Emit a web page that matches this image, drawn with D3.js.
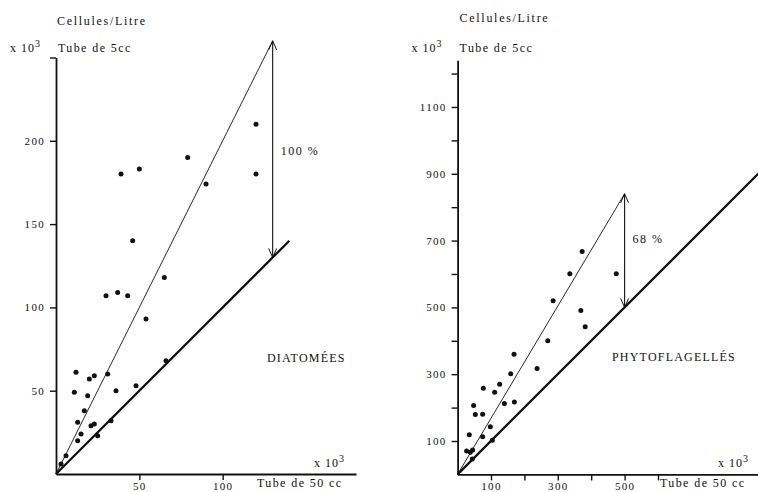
<!DOCTYPE html>
<html><head><meta charset="utf-8">
<script src="https://cdn.jsdelivr.net/npm/d3@7"></script>
<style>
body{margin:0;background:#fff;}
svg text{font-family:"Liberation Serif","DejaVu Serif",serif;fill:#111;}
</style></head>
<body>
<svg id="c" width="758" height="492"></svg>
<script>
// Diatomées: [Tube de 50 cc, Tube de 5 cc] (x 10^3 cellules/litre)
const diatX = [120,79,39,50,90,120,46,65,30,37,43,54,66,12,20,23,31,11,19,36,48,17,13,21,23,33,15,13,25,6,3];
const diatY = [210,190,180,183,174,180,140,118,107,109,107,93,68,61,57,59,60,49,47,50,53,38,31,29,30,32,24,20,23,11,6];
// Phytoflagellés
const phytX = [373,336,475,286,369,382,270,169,159,238,126,111,77,48,53,75,140,170,98,75,35,104,27,45,38,44];
const phytY = [667,601,601,520,491,442,400,360,301,317,270,246,258,206,179,180,212,217,143,113,119,102,70,73,66,46];

const leftYTicks = [50,100,150,200,250];
const leftYLabels = [50,100,150,200];
const leftXTicks = [50,100];
const rightYTicks = [100,200,300,400,500,600,700,800,900,1000,1100,1200];
const rightYLabels = [100,300,500,700,900,1100];
const rightXTicks = [100,200,300,400,500,600];
const rightXLabels = [100,300,500];

const svg = d3.select("#c");

function panel(o){
  const g = svg.append("g");
  const x = d3.scaleLinear().domain(o.xDom).range(o.xRange);
  const y = d3.scaleLinear().domain(o.yDom).range(o.yRange);
  const fmtY = d => o.yLabels.includes(d) ? d : "";
  const fmtX = d => o.xLabels.includes(d) ? d : "";
  const ya = g.append("g").attr("transform",`translate(${x(0)},0)`)
    .call(d3.axisLeft(y).tickValues(o.yTicks).tickFormat(fmtY).tickSize(6).tickSizeOuter(0).tickPadding(5));
  const xa = g.append("g").attr("transform",`translate(0,${y(0)})`)
    .call(d3.axisBottom(x).tickValues(o.xTicks).tickFormat(fmtX).tickSize(6).tickSizeOuter(0).tickPadding(2));
  [ya,xa].forEach(a=>{
    a.select(".domain").attr("stroke","#111").attr("stroke-width",1.8);
    a.selectAll(".tick line").attr("stroke","#111").attr("stroke-width",1.4);
    a.selectAll(".tick text").attr("font-size",11).attr("letter-spacing","1.3px").attr("fill","#222")
      .style("font-family",'"Liberation Serif",serif');
  });
  // thick line y = x
  g.append("line").attr("x1",x(0)).attr("y1",y(0)).attr("x2",x(o.thickEnd)).attr("y2",y(o.thickEnd))
    .attr("stroke","#111").attr("stroke-width",2.3);
  // thin line y = k x
  g.append("line").attr("x1",x(0)).attr("y1",y(0)).attr("x2",x(o.thinEnd)).attr("y2",y(o.thinEnd*o.k))
    .attr("stroke","#111").attr("stroke-width",0.9);
  // double arrow
  const ax = x(o.thinEnd), ay1 = y(o.thinEnd*o.k), ay2 = y(o.thinEnd);
  g.append("line").attr("x1",ax).attr("y1",ay1).attr("x2",ax).attr("y2",ay2).attr("stroke","#111").attr("stroke-width",1.1);
  g.append("path").attr("d",`M${ax-4},${ay1+9}L${ax},${ay1}L${ax+4},${ay1+9}`).attr("fill","none").attr("stroke","#111").attr("stroke-width",1);
  g.append("path").attr("d",`M${ax-4},${ay2-9}L${ax},${ay2}L${ax+4},${ay2-9}`).attr("fill","none").attr("stroke","#111").attr("stroke-width",1);
  g.append("text").attr("x",ax+8).attr("y",(ay1+ay2)/2 + o.pctDy).attr("font-size",12).attr("letter-spacing","1.5px").text(o.pct);
  // points
  g.selectAll("circle.p").data(o.px.map((v,i)=>[v,o.py[i]])).join("circle")
    .attr("cx",d=>x(d[0])).attr("cy",d=>y(d[1])).attr("r",2.5).attr("fill","#111");
  // labels
  const t = (xx,yy,s,txt,ls)=>g.append("text").attr("x",xx).attr("y",yy).attr("font-size",s).attr("letter-spacing",(ls||1.5)+"px").text(txt);
  t(x(0)+o.titleDx, o.titleY, 12, "Cellules/Litre", 1.7);
  const xe = g.append("text").attr("x",x(0)-46).attr("y",52).attr("font-size",12).attr("letter-spacing","1px");
  xe.append("tspan").text("x 10");
  xe.append("tspan").attr("dy",-5).attr("font-size",10).text("3");
  t(x(0)+2, 52, 12, "Tube de 5cc", 1.4);
  const xe2 = g.append("text").attr("x",o.xExpX).attr("y",467).attr("font-size",12).attr("letter-spacing","1px");
  xe2.append("tspan").text("x 10");
  xe2.append("tspan").attr("dy",-5).attr("font-size",10).text("3");
  t(o.tubeX, 487, 12, "Tube de 50 cc", 1.4);
  t(o.nameX, o.nameY, 12, o.name, 1.2);
}

panel({xDom:[0,180], xRange:[56,356], yDom:[0,250], yRange:[474,57.5],
  yTicks:leftYTicks, yLabels:leftYLabels, xTicks:leftXTicks, xLabels:leftXTicks,
  thickEnd:140, thinEnd:130, k:2, pct:"100 %", pctDy:6,
  px:diatX, py:diatY, titleDx:1, titleY:25, xExpX:314, tubeX:257,
  name:"DIATOMÉES", nameX:267, nameY:362});

panel({xDom:[0,900], xRange:[457.6,758.2], yDom:[0,1240], yRange:[474.4,60.2],
  yTicks:rightYTicks, yLabels:rightYLabels, xTicks:rightXTicks, xLabels:rightXLabels,
  thickEnd:900, thinEnd:500, k:1.68, pct:"68 %", pctDy:-8,
  px:phytX, py:phytY, titleDx:2, titleY:22, xExpX:718, tubeX:660,
  name:"PHYTOFLAGELLÉS", nameX:612, nameY:361});
</script>
</body></html>
